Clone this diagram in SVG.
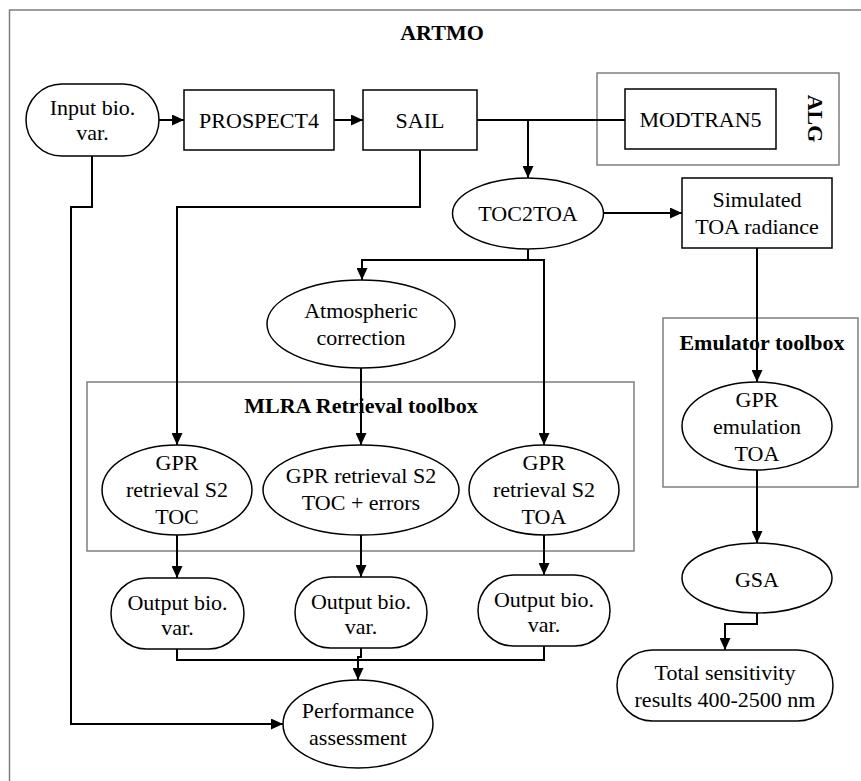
<svg xmlns="http://www.w3.org/2000/svg" width="861" height="781" viewBox="0 0 861 781">
<defs>
<marker id="arr" markerUnits="userSpaceOnUse" markerWidth="12" markerHeight="11" refX="12" refY="5.5" orient="auto">
<path d="M0,0 L12,5.5 L0,11 z" fill="#000"/>
</marker>
<style>
.frame{fill:none;stroke:#7f7f7f;stroke-width:1.5}
.node{fill:#fff;stroke:#000;stroke-width:1.5}
text{font-family:'Liberation Serif','Times New Roman',Times,serif;font-size:22px;fill:#000;text-anchor:middle;font-weight:normal}
text.b{font-weight:bold}
.c{fill:none;stroke:#000;stroke-width:2}
</style>
</defs>
<rect width="861" height="781" fill="#fff"/>
<g id="frames" font-family="Liberation Serif, serif">
<rect id="artmo" class="frame" x="9.5" y="10" width="870" height="790"/>
<text class="b" x="442" y="40">ARTMO</text>
<rect id="alg" class="frame" x="597" y="73" width="242" height="92"/>
<text class="b" transform="translate(808,118.5) rotate(90)" x="0" y="0">ALG</text>
<rect id="mlra" class="frame" x="87" y="382" width="547" height="169"/>
<text class="b" x="361" y="413">MLRA Retrieval toolbox</text>
<rect id="emulator" class="frame" x="663" y="318" width="195" height="169"/>
<text class="b" x="762" y="350">Emulator toolbox</text>
</g>
<g id="connectors">
<path class="c" d="M159,120 H184" marker-end="url(#arr)"/>
<path class="c" d="M334,120 H363" marker-end="url(#arr)"/>
<path class="c" d="M477,120 H625"/>
<path class="c" d="M528,120 V178" marker-end="url(#arr)"/>
<path class="c" d="M604,213 H682" marker-end="url(#arr)"/>
<path class="c" d="M757,248 V382" marker-end="url(#arr)"/>
<path class="c" d="M757,470 V543" marker-end="url(#arr)"/>
<path class="c" d="M757,613 V624 H725 V650" marker-end="url(#arr)"/>
<path class="c" d="M92,156 V207 H71 V724 H283" marker-end="url(#arr)"/>
<path class="c" d="M420,150 V207 H177 V445" marker-end="url(#arr)"/>
<path class="c" d="M528,249 V260 H362 V280" marker-end="url(#arr)"/>
<path class="c" d="M528,260 H544 V445" marker-end="url(#arr)"/>
<path class="c" d="M361,368 V445" marker-end="url(#arr)"/>
<path class="c" d="M177,535 V578" marker-end="url(#arr)"/>
<path class="c" d="M361,535 V577" marker-end="url(#arr)"/>
<path class="c" d="M544,535 V575" marker-end="url(#arr)"/>
<path class="c" d="M177,649 V660 H358 V680" marker-end="url(#arr)"/>
<path class="c" d="M361,648 V657 H358 V660"/>
<path class="c" d="M544,646 V660 H358"/>
</g>
<g id="input">
<rect class="node" x="26" y="84" width="133" height="72" rx="36"/>
<text x="92.5" y="115">Input bio.</text>
<text x="92.5" y="140">var.</text>
</g>
<g id="prospect4">
<rect class="node" x="184" y="90" width="150" height="60"/>
<text x="259" y="128">PROSPECT4</text>
</g>
<g id="sail">
<rect class="node" x="363" y="90" width="114" height="60"/>
<text x="420" y="128">SAIL</text>
</g>
<g id="modtran5">
<rect class="node" x="625" y="89" width="151" height="60"/>
<text x="700.5" y="127">MODTRAN5</text>
</g>
<g id="toc2toa">
<ellipse class="node" cx="528" cy="213.5" rx="75.5" ry="35.5"/>
<text x="528" y="221">TOC2TOA</text>
</g>
<g id="simulated">
<rect class="node" x="682" y="178" width="150" height="70"/>
<text x="757" y="207">Simulated</text>
<text x="757" y="234">TOA radiance</text>
</g>
<g id="atmospheric">
<ellipse class="node" cx="361" cy="324" rx="94" ry="44"/>
<text x="361" y="318">Atmospheric</text>
<text x="361" y="345">correction</text>
</g>
<g id="gpr-toc">
<ellipse class="node" cx="177" cy="490" rx="75" ry="45"/>
<text x="177" y="470">GPR</text>
<text x="177" y="497">retrieval S2</text>
<text x="177" y="524">TOC</text>
</g>
<g id="gpr-errors">
<ellipse class="node" cx="361" cy="490" rx="98" ry="45"/>
<text x="361" y="483">GPR retrieval S2</text>
<text x="361" y="510">TOC + errors</text>
</g>
<g id="gpr-toa">
<ellipse class="node" cx="544" cy="490" rx="75" ry="45"/>
<text x="544" y="470">GPR</text>
<text x="544" y="497">retrieval S2</text>
<text x="544" y="524">TOA</text>
</g>
<g id="gpr-emulation">
<ellipse class="node" cx="757" cy="426" rx="75" ry="44"/>
<text x="757" y="407">GPR</text>
<text x="757" y="434">emulation</text>
<text x="757" y="461">TOA</text>
</g>
<g id="output1">
<rect class="node" x="111" y="578" width="133" height="71" rx="35.5"/>
<text x="177.5" y="610">Output bio.</text>
<text x="177.5" y="635">var.</text>
</g>
<g id="output2">
<rect class="node" x="295" y="577" width="132" height="71" rx="35.5"/>
<text x="361" y="609">Output bio.</text>
<text x="361" y="634">var.</text>
</g>
<g id="output3">
<rect class="node" x="478" y="575" width="132" height="71" rx="35.5"/>
<text x="544" y="607">Output bio.</text>
<text x="544" y="632">var.</text>
</g>
<g id="gsa">
<ellipse class="node" cx="757" cy="578" rx="75" ry="35"/>
<text x="757" y="587">GSA</text>
</g>
<g id="total">
<rect class="node" x="617" y="650" width="216" height="71" rx="35.5"/>
<text x="725" y="680">Total sensitivity</text>
<text x="725" y="707">results 400-2500 nm</text>
</g>
<g id="performance">
<ellipse class="node" cx="358" cy="724" rx="75" ry="44"/>
<text x="358" y="718">Performance</text>
<text x="358" y="745">assessment</text>
</g>
</svg>
